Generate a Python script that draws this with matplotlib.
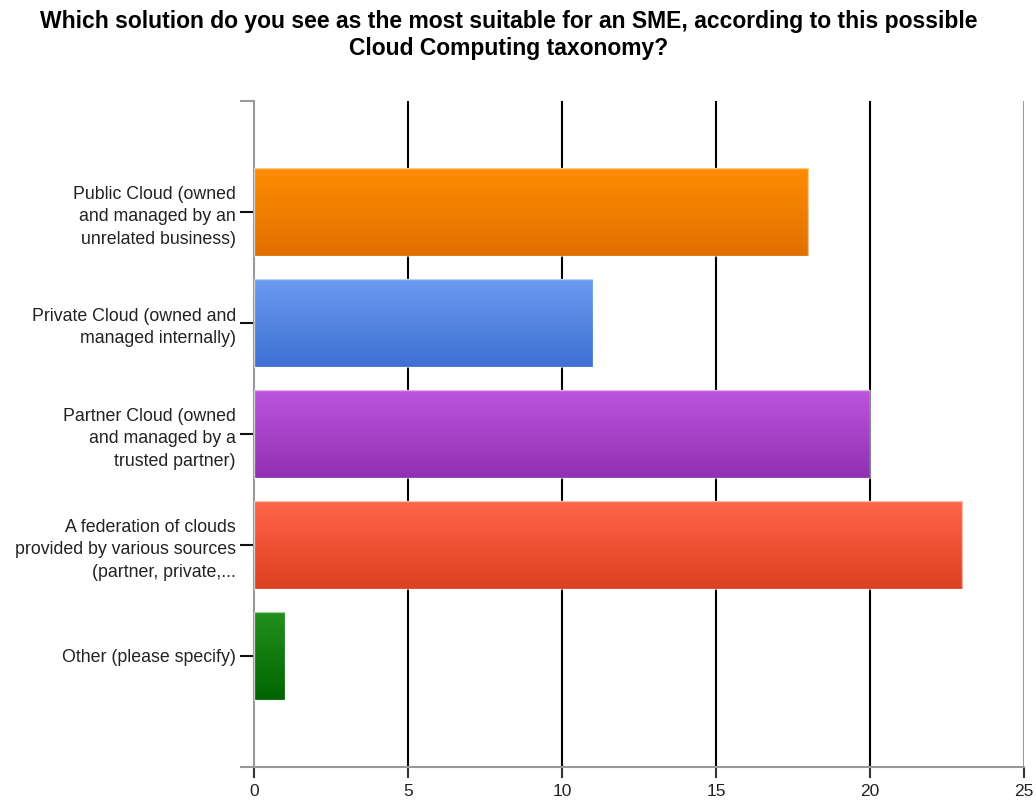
import numpy as np
import matplotlib
matplotlib.use("Agg")
import matplotlib.pyplot as plt
from matplotlib.colors import LinearSegmentedColormap

plt.rcParams['font.family'] = ['Liberation Sans', 'DejaVu Sans']

title = ("Which solution do you see as the most suitable for an SME, according to this possible\n"
         "Cloud Computing taxonomy?")
categories = [
    "Public Cloud (owned\nand managed by an\nunrelated business)",
    "Private Cloud (owned and\nmanaged internally)",
    "Partner Cloud (owned\nand managed by a\ntrusted partner)",
    "A federation of clouds\nprovided by various sources\n(partner, private,...",
    "Other (please specify)",
]
values = [18, 11, 20, 23, 1]
x_ticks = [0, 5, 10, 15, 20, 25]
# (top colour, bottom colour) of each bar's vertical gradient
bar_colors = [
    ("#ff8c00", "#e07000"),
    ("#6a9bf0", "#3d70d2"),
    ("#bd55dd", "#9030b2"),
    ("#ff6549", "#dc4020"),
    ("#22901f", "#006400"),
]

fig = plt.figure(figsize=(10.36, 8), dpi=100)
ax = fig.add_axes([0.2452, 0.04125, 0.7432, 0.8325])

ypos = np.arange(len(categories))
bars = ax.barh(ypos, values, height=0.79, zorder=3)

ax.set_xlim(0, 25)
ax.set_ylim(5.0, -1.0)
ax.set_autoscale_on(False)

for patch, (c_top, c_bot) in zip(bars.patches, bar_colors):
    x0, y0 = patch.get_x(), patch.get_y()
    w, h = patch.get_width(), patch.get_height()
    cmap = LinearSegmentedColormap.from_list("g", [c_top, c_bot])
    grad = np.linspace(0, 1, 256).reshape(-1, 1)
    patch.set_facecolor("none")
    patch.set_edgecolor((1, 1, 1, 0.55))
    patch.set_linewidth(1.0)
    im = ax.imshow(grad, cmap=cmap, aspect="auto", interpolation="bicubic",
                   extent=(x0, x0 + w, y0 + h, y0), origin="upper", zorder=2)
    im.set_clip_path(patch)

# vertical grid lines
for xv in x_ticks[1:-1]:
    ax.axvline(xv, color="black", lw=1.5, zorder=1)

for side in ("top", "right"):
    ax.spines[side].set_visible(False)
ax.spines["left"].set_color("#999999")
ax.spines["left"].set_linewidth(1.5)
ax.spines["bottom"].set_color("#999999")
ax.spines["bottom"].set_linewidth(1.5)
ax.axvline(25, color="#999999", lw=1.5, zorder=1)

ax.set_xticks(x_ticks)
ax.set_xticklabels([str(t) for t in x_ticks], fontsize=12.5, color="#222222")
ax.tick_params(axis="x", length=8, width=1.5, color="#333333", pad=4)

ax.set_yticks(ypos)
ax.set_yticklabels(categories, fontsize=12.8, color="#222222", linespacing=1.42)
ax.set_yticks([-1.0, 5.0], minor=True)
ax.tick_params(axis="y", which="major", length=10, width=1.5, color="#111111", pad=3)
ax.tick_params(axis="y", which="minor", length=10, width=1.5, color="#999999")

fig.text(0.491, 0.987, title, ha="center", va="top", fontsize=16.5,
         fontweight="bold", color="black", linespacing=1.2)

fig.savefig("out.png", dpi=100, facecolor="white")
